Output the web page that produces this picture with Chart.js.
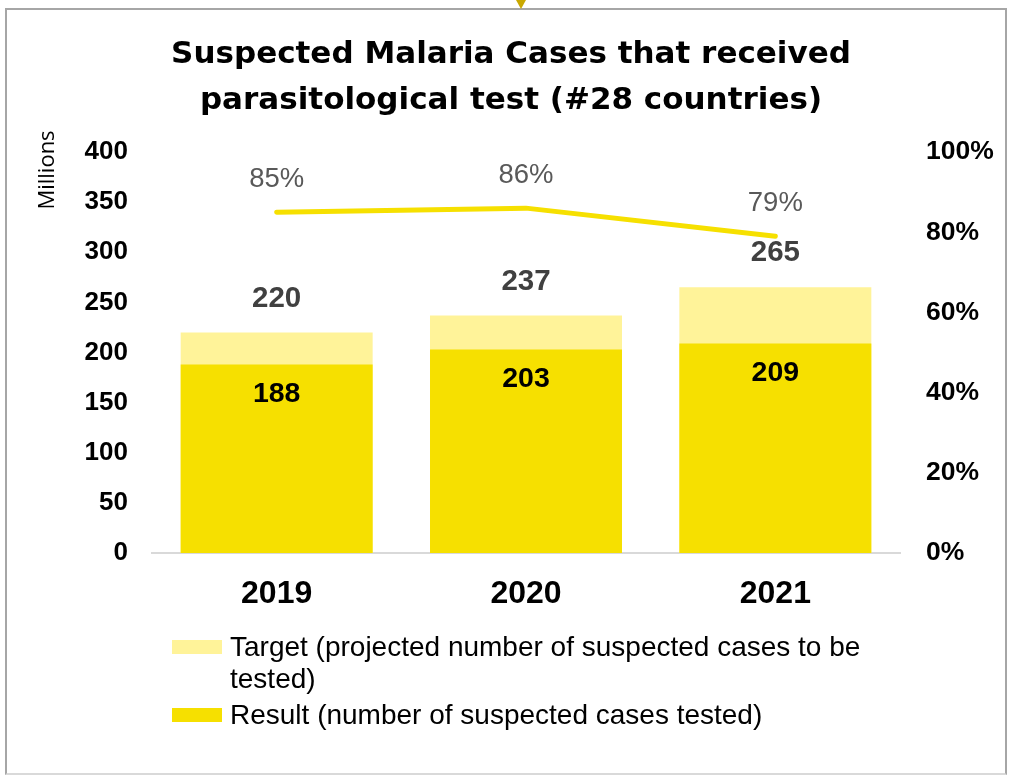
<!DOCTYPE html>
<html>
<head>
<meta charset="utf-8">
<script src="https://cdn.jsdelivr.net/npm/chart.js@4.4.0/dist/chart.umd.min.js"></script>
<style>
  html, body { margin: 0; padding: 0; background: #fff; }
  #wrap { position: relative; width: 1011px; height: 779px; overflow: hidden; font-family: "Liberation Sans", Arial, sans-serif; }
  #frame { position: absolute; left: 5px; top: 8px; width: 1002px; height: 767px; border: 2px solid #a6a6a6; border-bottom-color: #d9d9d9; box-sizing: border-box; }
  #tri { position: absolute; left: 516px; top: 0; width: 0; height: 0; border-left: 5px solid transparent; border-right: 5px solid transparent; border-top: 9px solid #c9a800; }
  #title { position: absolute; left: 0; top: 29px; width: 1022px; text-align: center; font-family: "DejaVu Sans", sans-serif; font-weight: bold; font-size: 31px; line-height: 46px; color: #000; }
  canvas { position: absolute; left: 0; top: 0; }
  #legend { position: absolute; left: 172px; top: 631px; font-size: 28px; color: #000; }
  .item { position: relative; padding-left: 58px; line-height: 32px; }
  .sw { position: absolute; left: 0; width: 50px; height: 14px; }
</style>
</head>
<body>
<div id="wrap">
  <div id="frame"></div>
  <div id="tri"></div>
  <canvas id="c" width="1011" height="779"></canvas>
  <div id="title">Suspected Malaria Cases that received<br>parasitological test (#28 countries)</div>
  <div id="legend">
    <div class="item"><span class="sw" style="top:9px;background:#FFF399"></span>Target (projected number of suspected cases to be<br>tested)</div>
    <div class="item" style="margin-top:4px"><span class="sw" style="top:9px;background:#F6E000"></span>Result (number of suspected cases tested)</div>
  </div>
</div>
<script>
const categories = ["2019", "2020", "2021"];
const targetValues = [220, 237, 265];
const resultValues = [188, 203, 209];
const percentValues = [0.85, 0.86, 0.79];
const percentLabels = ["85%", "86%", "79%"];
const leftTicks = [0, 50, 100, 150, 200, 250, 300, 350, 400];

const FONT = "'Liberation Sans', Arial, sans-serif";
const TARGET_COLOR = "#FFF399";
const RESULT_COLOR = "#F6E000";

const labelPlugin = {
  id: "labels",
  afterDatasetsDraw(chart) {
    const ctx = chart.ctx;
    ctx.save();
    ctx.textAlign = "center";
    ctx.textBaseline = "middle";
    const mT = chart.getDatasetMeta(1);
    mT.data.forEach((el, i) => {
      ctx.font = "bold 29.5px " + FONT;
      ctx.fillStyle = "#404040";
      ctx.fillText(String(targetValues[i]), el.x, el.y - 34);
    });
    const mR = chart.getDatasetMeta(2);
    mR.data.forEach((el, i) => {
      ctx.font = "bold 28.5px " + FONT;
      ctx.fillStyle = "#000";
      ctx.fillText(String(resultValues[i]), el.x, el.y + 30);
    });
    const mL = chart.getDatasetMeta(0);
    mL.data.forEach((el, i) => {
      ctx.font = "27.5px " + FONT;
      ctx.fillStyle = "#595959";
      ctx.fillText(percentLabels[i], el.x, el.y - 33);
    });
    ctx.font = "22px 'Open Sans', sans-serif";
    ctx.fillStyle = "#000";
    ctx.translate(48, 170);
    ctx.rotate(-Math.PI / 2);
    ctx.fillText("Millions", 0, 0);
    ctx.restore();
  }
};

new Chart(document.getElementById("c"), {
  data: {
    labels: categories,
    datasets: [
      { type: "line", label: "Percent tested", data: percentValues, yAxisID: "y2",
        borderColor: RESULT_COLOR, borderWidth: 5, pointRadius: 0, tension: 0, order: 0, borderCapStyle: "round" },
      { type: "bar", label: "Target (projected number of suspected cases to be tested)", data: targetValues,
        backgroundColor: TARGET_COLOR, grouped: false, barPercentage: 0.77, categoryPercentage: 1, order: 2 },
      { type: "bar", label: "Result (number of suspected cases tested)", data: resultValues,
        backgroundColor: RESULT_COLOR, grouped: false, barPercentage: 0.77, categoryPercentage: 1, order: 1 }
    ]
  },
  options: {
    responsive: false,
    animation: false,
    layout: { padding: { top: 152, left: 0, right: 0, bottom: 0 } },
    plugins: { legend: { display: false }, tooltip: { enabled: false }, title: { display: false } },
    scales: {
      x: {
        grid: { display: false, drawTicks: false },
        border: { display: true, color: "#d9d9d9", width: 2 },
        ticks: { color: "#000", font: { family: FONT, size: 32, weight: "bold" }, padding: 22 },
        afterFit(a) { a.height = 226; }
      },
      y: {
        position: "left", min: 0, max: 400,
        grid: { display: false, drawTicks: false },
        border: { display: false },
        ticks: { stepSize: 50, color: "#000", font: { family: FONT, size: 26, weight: "bold" }, padding: 24,
          callback: (v) => leftTicks.includes(v) ? String(v) : "" },
        afterFit(a) { a.width = 152; }
      },
      y2: {
        position: "right", min: 0, max: 1,
        grid: { display: false, drawTicks: false },
        border: { display: false },
        ticks: { stepSize: 0.2, color: "#000", font: { family: FONT, size: 26.5, weight: "bold" }, padding: 26,
          callback: (v) => Math.round(v * 100) + "%" },
        afterFit(a) { a.width = 111; }
      }
    }
  },
  plugins: [labelPlugin]
});
</script>
</body>
</html>
